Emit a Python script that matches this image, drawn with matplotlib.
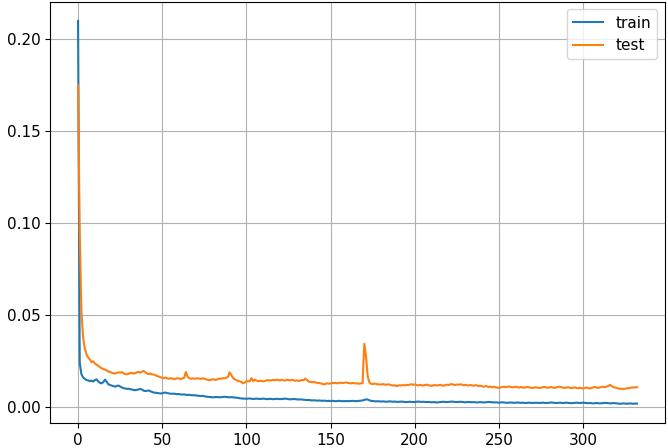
import matplotlib
matplotlib.use("Agg")
import matplotlib.pyplot as plt

train = [
    0.2100, 0.0240, 0.0180, 0.0162, 0.0155, 0.0148, 0.0146, 0.0142, 0.0145, 0.0140,
    0.0148, 0.0152, 0.0140, 0.0133, 0.0130, 0.0137, 0.0150, 0.0138, 0.0125, 0.0121,
    0.0118, 0.0115, 0.0112, 0.0116, 0.0118, 0.0113, 0.0108, 0.0104, 0.0102, 0.0100,
    0.0101, 0.0098, 0.0097, 0.0094, 0.0093, 0.0095, 0.0097, 0.0100, 0.0096, 0.0090,
    0.0088, 0.0090, 0.0091, 0.0087, 0.0083, 0.0080, 0.0079, 0.0078, 0.0076, 0.0075,
    0.0076, 0.0079, 0.0080, 0.0077, 0.0075, 0.0074, 0.0073, 0.0074, 0.0072, 0.0071,
    0.0072, 0.0070, 0.0069, 0.0070, 0.0068, 0.0067, 0.0068, 0.0066, 0.0065, 0.0066,
    0.0064, 0.0063, 0.0062, 0.0061, 0.0062, 0.0060, 0.0058, 0.0057, 0.0056, 0.0055,
    0.0054, 0.0055, 0.0056, 0.0055, 0.0054, 0.0055, 0.0056, 0.0057, 0.0056, 0.0055,
    0.0054, 0.0055, 0.0054, 0.0053, 0.0052, 0.0051, 0.0049, 0.0048, 0.0047, 0.0047,
    0.0046, 0.0047, 0.0048, 0.0046, 0.0045, 0.0046, 0.0047, 0.0046, 0.0045, 0.0046,
    0.0047, 0.0046, 0.0044, 0.0045, 0.0046, 0.0045, 0.0044, 0.0045, 0.0046, 0.0045,
    0.0044, 0.0045, 0.0046, 0.0047, 0.0046, 0.0044, 0.0043, 0.0044, 0.0045, 0.0044,
    0.0043, 0.0042, 0.0043, 0.0042, 0.0041, 0.0040, 0.0039, 0.0040, 0.0038, 0.0037,
    0.0038, 0.0037, 0.0036, 0.0037, 0.0036, 0.0035, 0.0036, 0.0035, 0.0034, 0.0035,
    0.0034, 0.0035, 0.0034, 0.0033, 0.0034, 0.0035, 0.0034, 0.0033, 0.0034, 0.0033,
    0.0034, 0.0033, 0.0034, 0.0035, 0.0034, 0.0033, 0.0034, 0.0035, 0.0036, 0.0037,
    0.0040, 0.0043, 0.0042, 0.0038, 0.0035, 0.0034, 0.0033, 0.0032, 0.0033, 0.0032,
    0.0031, 0.0032, 0.0031, 0.0030, 0.0031, 0.0032, 0.0031, 0.0030, 0.0031, 0.0030,
    0.0029, 0.0030, 0.0031, 0.0030, 0.0029, 0.0028, 0.0029, 0.0030, 0.0029, 0.0028,
    0.0029, 0.0030, 0.0031, 0.0030, 0.0029, 0.0030, 0.0029, 0.0028, 0.0029, 0.0028,
    0.0027, 0.0028, 0.0027, 0.0026, 0.0027, 0.0028, 0.0029, 0.0030, 0.0029, 0.0028,
    0.0029, 0.0030, 0.0031, 0.0030, 0.0029, 0.0028, 0.0029, 0.0030, 0.0029, 0.0028,
    0.0027, 0.0028, 0.0029, 0.0028, 0.0027, 0.0028, 0.0027, 0.0026, 0.0027, 0.0028,
    0.0027, 0.0026, 0.0027, 0.0028, 0.0029, 0.0028, 0.0027, 0.0026, 0.0027, 0.0026,
    0.0025, 0.0026, 0.0027, 0.0026, 0.0025, 0.0024, 0.0025, 0.0026, 0.0025, 0.0024,
    0.0025, 0.0026, 0.0025, 0.0024, 0.0025, 0.0024, 0.0023, 0.0024, 0.0025, 0.0024,
    0.0023, 0.0024, 0.0025, 0.0024, 0.0023, 0.0024, 0.0025, 0.0024, 0.0023, 0.0024,
    0.0025, 0.0026, 0.0025, 0.0024, 0.0023, 0.0024, 0.0025, 0.0024, 0.0023, 0.0024,
    0.0025, 0.0024, 0.0023, 0.0022, 0.0023, 0.0024, 0.0025, 0.0024, 0.0023, 0.0024,
    0.0025, 0.0024, 0.0023, 0.0022, 0.0023, 0.0022, 0.0021, 0.0022, 0.0023, 0.0022,
    0.0021, 0.0022, 0.0023, 0.0024, 0.0023, 0.0022, 0.0021, 0.0022, 0.0023, 0.0022,
    0.0021, 0.0020, 0.0019, 0.0020, 0.0021, 0.0020, 0.0019, 0.0020, 0.0021, 0.0020,
    0.0019, 0.0020, 0.0020,
]

test = [
    0.1750, 0.0950, 0.0520, 0.0380, 0.0320, 0.0290, 0.0270, 0.0260, 0.0245, 0.0250,
    0.0238, 0.0232, 0.0225, 0.0218, 0.0212, 0.0208, 0.0205, 0.0200, 0.0195, 0.0192,
    0.0188, 0.0185, 0.0183, 0.0187, 0.0190, 0.0188, 0.0191, 0.0185, 0.0180, 0.0179,
    0.0182, 0.0186, 0.0187, 0.0183, 0.0186, 0.0190, 0.0192, 0.0188, 0.0194, 0.0197,
    0.0189, 0.0183, 0.0180, 0.0184, 0.0179, 0.0178, 0.0174, 0.0170, 0.0167, 0.0163,
    0.0160, 0.0158, 0.0161, 0.0157, 0.0155, 0.0158, 0.0156, 0.0153, 0.0155, 0.0158,
    0.0156, 0.0154, 0.0157, 0.0160, 0.0192, 0.0168, 0.0158, 0.0155, 0.0157, 0.0156,
    0.0155, 0.0158, 0.0156, 0.0154, 0.0158, 0.0155, 0.0152, 0.0149, 0.0147, 0.0150,
    0.0152, 0.0150, 0.0149, 0.0153, 0.0156, 0.0155, 0.0158, 0.0157, 0.0160, 0.0165,
    0.0190, 0.0176, 0.0160, 0.0152, 0.0148, 0.0143, 0.0141, 0.0138, 0.0130, 0.0135,
    0.0140, 0.0142, 0.0141, 0.0158, 0.0142, 0.0150, 0.0145, 0.0142, 0.0144, 0.0143,
    0.0141, 0.0143, 0.0146, 0.0148, 0.0145, 0.0147, 0.0149, 0.0146, 0.0150, 0.0148,
    0.0146, 0.0149, 0.0147, 0.0145, 0.0150, 0.0148, 0.0146, 0.0149, 0.0147, 0.0144,
    0.0146, 0.0143, 0.0145, 0.0148, 0.0147, 0.0156, 0.0148, 0.0140, 0.0138, 0.0136,
    0.0137, 0.0135, 0.0133, 0.0132, 0.0130, 0.0128, 0.0124, 0.0127, 0.0130, 0.0128,
    0.0130, 0.0132, 0.0131, 0.0133, 0.0130, 0.0132, 0.0134, 0.0131, 0.0133, 0.0135,
    0.0133, 0.0131, 0.0130, 0.0132, 0.0131, 0.0129, 0.0130, 0.0128, 0.0130, 0.0131,
    0.0345, 0.0280, 0.0170, 0.0136, 0.0128, 0.0126, 0.0129, 0.0127, 0.0124, 0.0125,
    0.0123, 0.0126, 0.0124, 0.0122, 0.0125, 0.0123, 0.0121, 0.0118, 0.0120, 0.0115,
    0.0117, 0.0120, 0.0118, 0.0121, 0.0119, 0.0122, 0.0120, 0.0123, 0.0125, 0.0122,
    0.0124, 0.0121, 0.0119, 0.0122, 0.0120, 0.0118, 0.0121, 0.0123, 0.0120, 0.0118,
    0.0116, 0.0119, 0.0121, 0.0118, 0.0120, 0.0122, 0.0119, 0.0117, 0.0120, 0.0123,
    0.0121, 0.0124, 0.0126, 0.0123, 0.0121, 0.0124, 0.0122, 0.0125, 0.0123, 0.0120,
    0.0122, 0.0120, 0.0118, 0.0121, 0.0119, 0.0117, 0.0120, 0.0118, 0.0115, 0.0117,
    0.0114, 0.0112, 0.0115, 0.0113, 0.0110, 0.0112, 0.0109, 0.0111, 0.0108, 0.0107,
    0.0106, 0.0108, 0.0110, 0.0112, 0.0109, 0.0111, 0.0113, 0.0110, 0.0108, 0.0110,
    0.0112, 0.0109, 0.0107, 0.0110, 0.0108, 0.0106, 0.0109, 0.0111, 0.0108, 0.0106,
    0.0105, 0.0107, 0.0109, 0.0106, 0.0104, 0.0107, 0.0109, 0.0111, 0.0108, 0.0106,
    0.0108, 0.0110, 0.0107, 0.0105, 0.0108, 0.0110, 0.0112, 0.0109, 0.0107, 0.0105,
    0.0107, 0.0109, 0.0106, 0.0104, 0.0106, 0.0108, 0.0105, 0.0103, 0.0106, 0.0104,
    0.0102, 0.0105, 0.0107, 0.0104, 0.0102, 0.0105, 0.0108, 0.0110, 0.0107, 0.0105,
    0.0108, 0.0110, 0.0112, 0.0109, 0.0113, 0.0116, 0.0122, 0.0114, 0.0110, 0.0107,
    0.0104, 0.0102, 0.0100, 0.0101, 0.0099, 0.0101, 0.0103, 0.0104, 0.0106, 0.0107,
    0.0108, 0.0108, 0.0109,
]

series_labels = ["train", "test"]

plt.rcParams["font.size"] = 11
fig = plt.figure(figsize=(6.68, 4.48), dpi=100)
ax = fig.add_axes([0.075, 0.056, 0.9205, 0.94])
ax.plot(range(len(train)), train, label=series_labels[0])
ax.plot(range(len(test)), test, label=series_labels[1])
ax.grid(True)
ax.legend(loc="upper right")
fig.savefig("out.png", dpi=100)
